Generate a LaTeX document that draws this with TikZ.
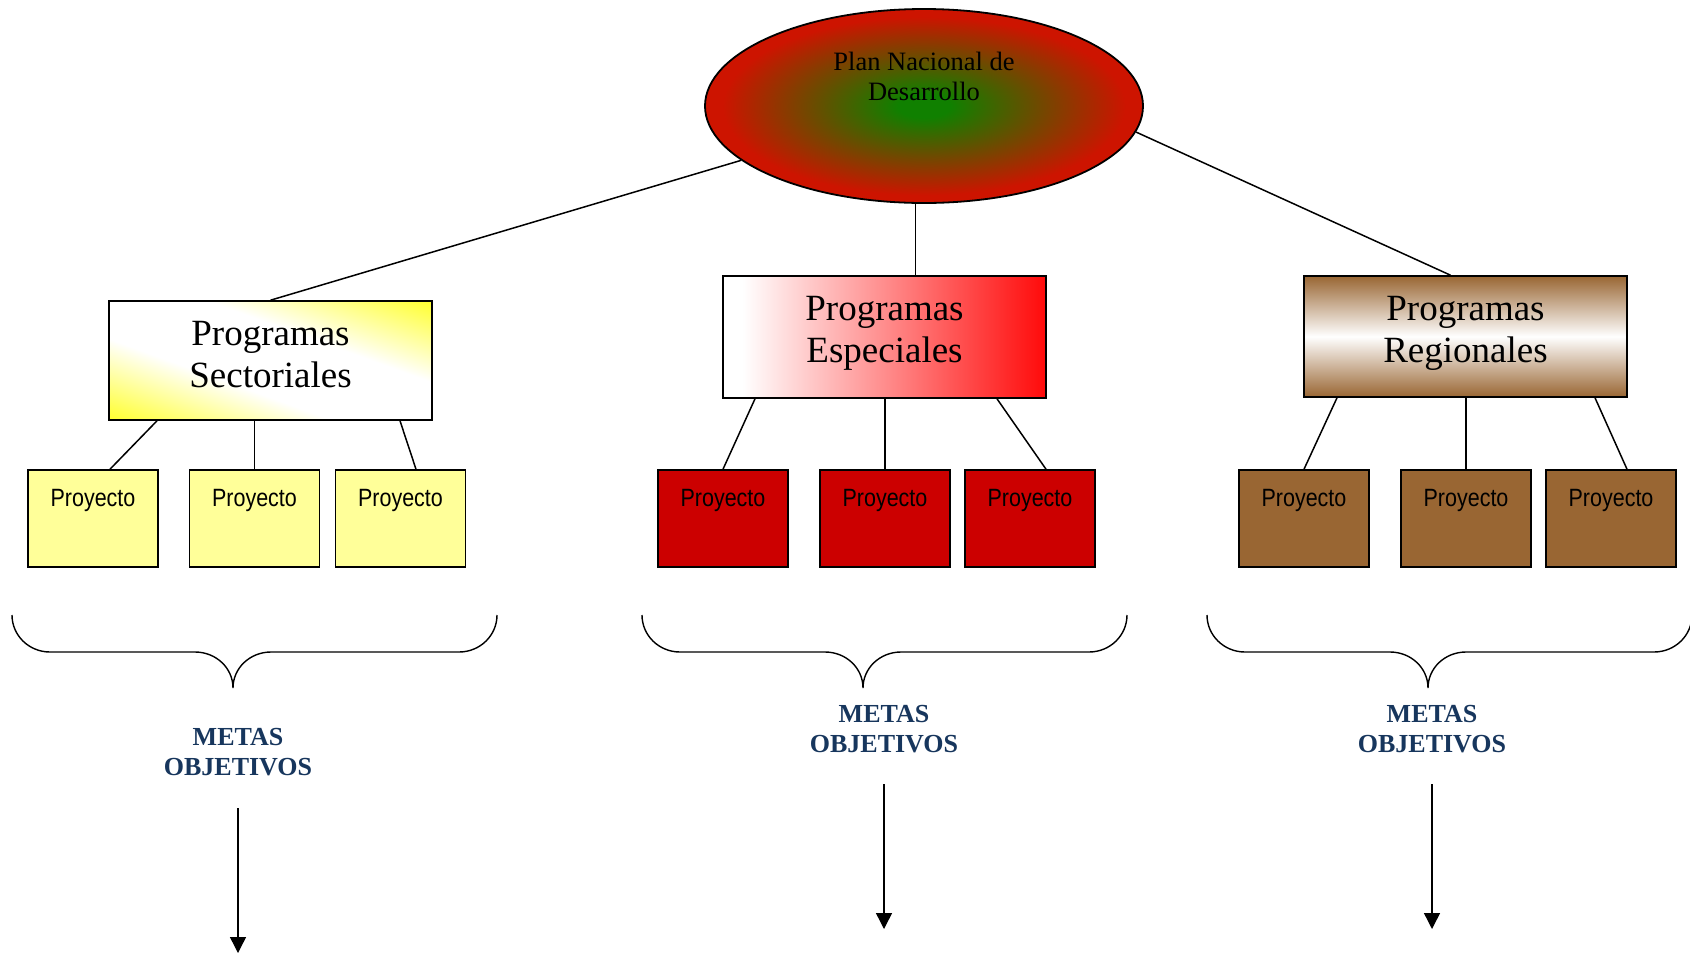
\documentclass[tikz,border=0pt]{standalone}
\usepackage{fontspec}
\setmainfont{Liberation Serif}
\newfontfamily\projfont[FakeStretch=0.86]{Liberation Sans}
\usetikzlibrary{arrows.meta,calc,shapes.geometric}

\definecolor{pgreen}{RGB}{16,128,0}
\definecolor{pred}{RGB}{205,20,0}
\definecolor{espred}{RGB}{255,10,10}
\definecolor{secyellow}{RGB}{255,255,0}
\definecolor{pyellow}{RGB}{255,255,153}
\definecolor{pdarkred}{RGB}{204,0,0}
\definecolor{pbrown}{RGB}{153,102,51}
\definecolor{metablue}{RGB}{23,54,93}

% green core fading to red at the rim of the plan ellipse
\pgfdeclareradialshading{plancore}{\pgfpointorigin}{%
  color(0bp)=(pgreen); color(3bp)=(pgreen); color(23bp)=(pred); color(50bp)=(pred)}
% white on the left, red on the right
\pgfdeclarehorizontalshading{espgrad}{100bp}{%
  color(0bp)=(white); color(28bp)=(white); color(75bp)=(espred); color(100bp)=(espred)}
% yellow corners with a white diagonal band
\pgfdeclareverticalshading{secgrad}{100bp}{%
  color(0bp)=(secyellow); color(13bp)=(secyellow); color(40bp)=(white);
  color(60bp)=(white); color(87bp)=(secyellow); color(100bp)=(secyellow)}
% brown edges, white middle
\pgfdeclareverticalshading{reggrad}{100bp}{%
  color(0bp)=(pbrown); color(25bp)=(pbrown); color(50bp)=(white);
  color(75bp)=(pbrown); color(100bp)=(pbrown)}

\begin{document}
\begin{tikzpicture}[x=1pt,y=-1pt,
  plan/.style={ellipse, draw=black, line width=1.8pt, inner sep=0pt,
    minimum width=438pt, minimum height=194pt, shade, shading=plancore,
    text height=20pt, text depth=92pt, font=\fontsize{26.5}{30}\selectfont},
  prog/.style={draw=black, line width=1.6pt, inner sep=0pt, shade,
    minimum width=323pt, text height=44pt, font=\fontsize{37}{42}\selectfont},
  proj/.style={draw=black, line width=1.6pt, inner sep=0pt,
    minimum width=130pt, text height=36pt, text depth=61pt,
    font=\projfont\fontsize{25}{30}\selectfont},
  metas/.style={text=metablue, anchor=base, inner sep=0pt,
    font=\bfseries\fontsize{26}{30}\selectfont},
  link/.style={draw=black, line width=1.5pt},
  brace/.style={draw=black, line width=1.4pt},
  arr/.style={draw=black, line width=1.4pt, -{Triangle[width=16pt,length=16pt]}}
]
\useasboundingbox (0,0) rectangle (1690,954);
\fill[white] (0,0) rectangle (1690,954);

% top of the hierarchy
\node[plan] (ell) at (924,106)
  {\begin{tabular}[t]{@{}c@{}}Plan Nacional de\\Desarrollo\end{tabular}};

% programme boxes
\node[prog, shading=secgrad, shading angle=-20, text depth=75pt] (sec) at (270.5,360.5)
  {\begin{tabular}[t]{@{}c@{}}Programas\\Sectoriales\end{tabular}};
\node[prog, shading=espgrad, text depth=78pt] (esp) at (884.5,337)
  {\begin{tabular}[t]{@{}c@{}}Programas\\Especiales\end{tabular}};
\node[prog, shading=reggrad, text depth=77pt] (reg) at (1465.5,336.5)
  {\begin{tabular}[t]{@{}c@{}}Programas\\Regionales\end{tabular}};

% project boxes
\node[proj, fill=pyellow] (y1) at (93,518.5) {Proyecto};
\node[proj, fill=pyellow] (y2) at (254.5,518.5) {Proyecto};
\node[proj, fill=pyellow] (y3) at (400.5,518.5) {Proyecto};
\node[proj, fill=pdarkred] (r1) at (723,518.5) {Proyecto};
\node[proj, fill=pdarkred] (r2) at (885,518.5) {Proyecto};
\node[proj, fill=pdarkred] (r3) at (1030,518.5) {Proyecto};
\node[proj, fill=pbrown] (b1) at (1304,518.5) {Proyecto};
\node[proj, fill=pbrown] (b2) at (1466,518.5) {Proyecto};
\node[proj, fill=pbrown] (b3) at (1611,518.5) {Proyecto};

% plan to programmes
\draw[link] (ell) -- (sec.north);
\draw[link] (ell.265) -- (ell.265 |- esp.north);
\draw[link] (ell.-7) -- ([xshift=-15pt]reg.north);

% programmes to projects
\draw[link] ([xshift=-113.5pt]sec.south) -- ([xshift=17pt]y1.north);
\draw[link] (y2.north |- sec.south) -- (y2.north);
\draw[link] ([xshift=129.5pt]sec.south) -- ([xshift=15.5pt]y3.north);
\draw[link] ([xshift=-129.5pt]esp.south) -- (r1.north);
\draw[link] (r2.north |- esp.south) -- (r2.north);
\draw[link] ([xshift=112.5pt]esp.south) -- ([xshift=16pt]r3.north);
\draw[link] ([xshift=-128.5pt]reg.south) -- (b1.north);
\draw[link] (b2.north |- reg.south) -- (b2.north);
\draw[link] ([xshift=129.5pt]reg.south) -- ([xshift=16pt]b3.north);

% curly braces under each group
\foreach \x/\t in {12/233, 642/863, 1207/1428} {
  \draw[brace] (\x,615) .. controls (\x,635.5) and (\x+17,652) .. (\x+38,652)
    -- (\t-38,652) .. controls (\t-17,652) and (\t,668) .. (\t,688)
    .. controls (\t,668) and (\t+17,652) .. (\t+38,652)
    -- (\x+447,652) .. controls (\x+468,652) and (\x+485,635.5) .. (\x+485,615);
}

% goals and objectives
\node[metas] (m1) at (238,745) {\begin{tabular}[t]{@{}c@{}}METAS\\OBJETIVOS\end{tabular}};
\node[metas] (m2) at (884,722) {\begin{tabular}[t]{@{}c@{}}METAS\\OBJETIVOS\end{tabular}};
\node[metas] (m3) at (1432,722) {\begin{tabular}[t]{@{}c@{}}METAS\\OBJETIVOS\end{tabular}};

% downward arrows
\coordinate (a1s) at (238,808);
\coordinate (a1e) at (238,953);
\coordinate (a2s) at (884,784);
\coordinate (a2e) at (884,929);
\coordinate (a3s) at (1432,784);
\coordinate (a3e) at (1432,929);
\draw[arr] (a1s) -- (a1e);
\draw[arr] (a2s) -- (a2e);
\draw[arr] (a3s) -- (a3e);
\end{tikzpicture}
\end{document}
